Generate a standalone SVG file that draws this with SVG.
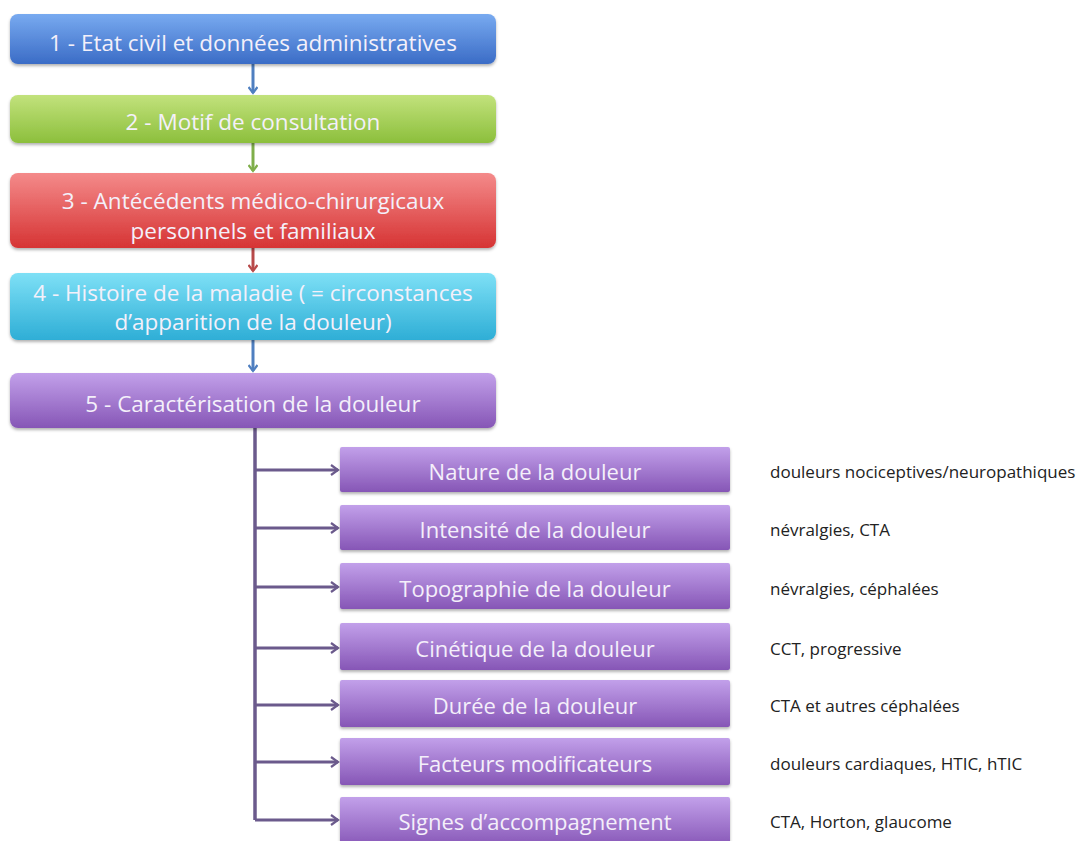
<svg xmlns="http://www.w3.org/2000/svg" width="1078" height="841" viewBox="0 0 1078 841">
<defs>
<linearGradient id="gBlue" x1="0" y1="0" x2="0" y2="1"><stop offset="0" stop-color="#78aaf0"/><stop offset="1" stop-color="#3b6cc6"/></linearGradient>
<linearGradient id="gGreen" x1="0" y1="0" x2="0" y2="1"><stop offset="0" stop-color="#c2e27c"/><stop offset="1" stop-color="#8cbf3c"/></linearGradient>
<linearGradient id="gRed" x1="0" y1="0" x2="0" y2="1"><stop offset="0" stop-color="#f48a8a"/><stop offset="1" stop-color="#d63434"/></linearGradient>
<linearGradient id="gCyan" x1="0" y1="0" x2="0" y2="1"><stop offset="0" stop-color="#7ee0f6"/><stop offset="1" stop-color="#2eaed6"/></linearGradient>
<linearGradient id="gPurple" x1="0" y1="0" x2="0" y2="1"><stop offset="0" stop-color="#c2a0ea"/><stop offset="1" stop-color="#8656b6"/></linearGradient>
<filter id="sh" x="-5%" y="-20%" width="110%" height="150%"><feDropShadow dx="0" dy="2" stdDeviation="1.5" flood-color="#000" flood-opacity="0.3"/></filter>
<marker id="ab" markerWidth="10" markerHeight="10" refX="7" refY="5" orient="auto" markerUnits="userSpaceOnUse"><path d="M1,0.5 L7,5 L1,9.5" fill="none" stroke="#4f7fc0" stroke-width="2.2"/></marker>
<marker id="ag" markerWidth="10" markerHeight="10" refX="7" refY="5" orient="auto" markerUnits="userSpaceOnUse"><path d="M1,0.5 L7,5 L1,9.5" fill="none" stroke="#7fae4a" stroke-width="2.2"/></marker>
<marker id="ar" markerWidth="10" markerHeight="10" refX="7" refY="5" orient="auto" markerUnits="userSpaceOnUse"><path d="M1,0.5 L7,5 L1,9.5" fill="none" stroke="#b84a4a" stroke-width="2.2"/></marker>
<marker id="ap" markerWidth="10" markerHeight="12" refX="8" refY="6" orient="auto" markerUnits="userSpaceOnUse"><path d="M1,1 L8,6 L1,11" fill="none" stroke="#6b5a8c" stroke-width="2.2"/></marker>
</defs>
<style>
.box{stroke:none;filter:url(#sh)}
.t{font-family:"Open Sans","Liberation Sans",sans-serif;font-size:22.5px;fill:#f4f0fa;text-anchor:middle;dominant-baseline:central}
.s{font-family:"Open Sans","Liberation Sans",sans-serif;font-size:22px;fill:#f4effa;text-anchor:middle;dominant-baseline:central}
.n{font-family:"Open Sans","Liberation Sans",sans-serif;font-size:17px;fill:#222;dominant-baseline:central}
.c{fill:none;stroke-width:3}
</style>
<rect width="1078" height="841" fill="#ffffff"/>
<g id="connectors">
<line class="c" x1="253" y1="64" x2="253" y2="93" stroke="#4f7fc0" marker-end="url(#ab)"/>
<line class="c" x1="253" y1="143" x2="253" y2="171" stroke="#7fae4a" marker-end="url(#ag)"/>
<line class="c" x1="253" y1="248" x2="253" y2="271" stroke="#b84a4a" marker-end="url(#ar)"/>
<line class="c" x1="253" y1="340" x2="253" y2="371" stroke="#4f7fc0" marker-end="url(#ab)"/>
<path d="M255,428 V820" fill="none" stroke="#6b5a8c" stroke-width="3.5"/>
<g stroke="#6b5a8c" stroke-width="3" fill="none">
<line x1="255" y1="470" x2="338" y2="470" marker-end="url(#ap)"/>
<line x1="255" y1="528" x2="338" y2="528" marker-end="url(#ap)"/>
<line x1="255" y1="587" x2="338" y2="587" marker-end="url(#ap)"/>
<line x1="255" y1="648" x2="338" y2="648" marker-end="url(#ap)"/>
<line x1="255" y1="705" x2="338" y2="705" marker-end="url(#ap)"/>
<line x1="255" y1="762" x2="338" y2="762" marker-end="url(#ap)"/>
<line x1="255" y1="820" x2="338" y2="820" marker-end="url(#ap)"/>
</g>
</g>
<g id="n1"><rect class="box" x="10" y="14" width="486" height="50" rx="8" fill="url(#gBlue)"/><text class="t" x="253" y="42">1 - Etat civil et données administratives</text></g>
<g id="n2"><rect class="box" x="10" y="95" width="486" height="48" rx="8" fill="url(#gGreen)"/><text class="t" x="253" y="121">2 - Motif de consultation</text></g>
<g id="n3"><rect class="box" x="10" y="173" width="486" height="75" rx="8" fill="url(#gRed)"/><text class="t" x="253" y="200">3 - Antécédents médico-chirurgicaux</text><text class="t" x="253" y="230">personnels et familiaux</text></g>
<g id="n4"><rect class="box" x="10" y="273" width="486" height="67" rx="8" fill="url(#gCyan)"/><text class="t" x="253" y="292">4 - Histoire de la maladie ( = circonstances</text><text class="t" x="253" y="321">d’apparition de la douleur)</text></g>
<g id="n5"><rect class="box" x="10" y="373" width="486" height="55" rx="8" fill="url(#gPurple)"/><text class="t" x="253" y="403">5 - Caractérisation de la douleur</text></g>
<g id="s1"><rect class="box" x="340" y="447" width="390" height="45" rx="2" fill="url(#gPurple)"/><text class="s" x="535" y="471">Nature de la douleur</text><text class="n" x="770" y="471">douleurs nociceptives/neuropathiques</text></g>
<g id="s2"><rect class="box" x="340" y="505" width="390" height="45" rx="2" fill="url(#gPurple)"/><text class="s" x="535" y="529">Intensité de la douleur</text><text class="n" x="770" y="529">névralgies, CTA</text></g>
<g id="s3"><rect class="box" x="340" y="563" width="390" height="46" rx="2" fill="url(#gPurple)"/><text class="s" x="535" y="588">Topographie de la douleur</text><text class="n" x="770" y="588">névralgies, céphalées</text></g>
<g id="s4"><rect class="box" x="340" y="623" width="390" height="47" rx="2" fill="url(#gPurple)"/><text class="s" x="535" y="648">Cinétique de la douleur</text><text class="n" x="770" y="648">CCT, progressive</text></g>
<g id="s5"><rect class="box" x="340" y="680" width="390" height="47" rx="2" fill="url(#gPurple)"/><text class="s" x="535" y="705">Durée de la douleur</text><text class="n" x="770" y="705">CTA et autres céphalées</text></g>
<g id="s6"><rect class="box" x="340" y="738" width="390" height="47" rx="2" fill="url(#gPurple)"/><text class="s" x="535" y="763">Facteurs modificateurs</text><text class="n" x="770" y="763">douleurs cardiaques, HTIC, hTIC</text></g>
<g id="s7"><rect class="box" x="340" y="797" width="390" height="50" rx="2" fill="url(#gPurple)"/><text class="s" x="535" y="821">Signes d’accompagnement</text><text class="n" x="770" y="821">CTA, Horton, glaucome</text></g>
</svg>
